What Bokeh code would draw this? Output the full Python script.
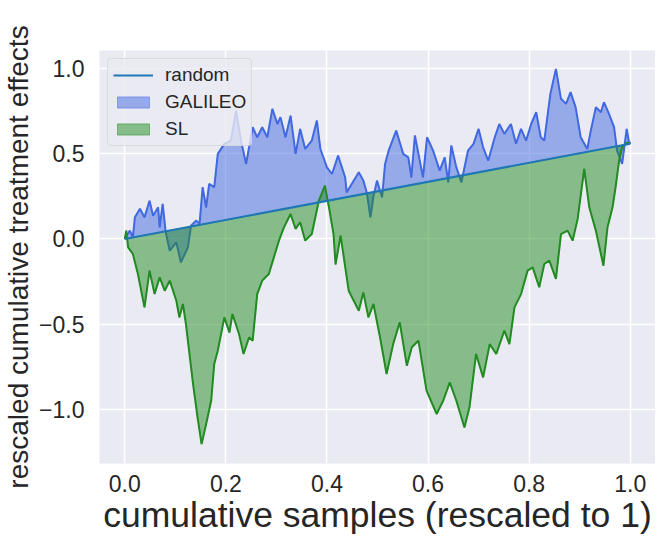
from bokeh.plotting import figure
from bokeh.models import Range1d, FixedTicker, Legend, LegendItem
from bokeh.embed import file_html
from bokeh.resources import INLINE

# ---- data ----
random_x = [0.0, 1.0]
random_y = [0.0, 0.56]

galileo_x = [0.0, 0.010, 0.016, 0.020, 0.030, 0.039, 0.049, 0.056, 0.066, 0.069,
             0.075, 0.081, 0.089, 0.102, 0.111, 0.125, 0.131, 0.141, 0.148, 0.154,
             0.161, 0.167, 0.177, 0.184, 0.197, 0.210, 0.220, 0.230, 0.240, 0.253,
             0.262, 0.272, 0.282, 0.292, 0.302, 0.308, 0.318, 0.328, 0.338, 0.347,
             0.357, 0.370, 0.380, 0.387, 0.400, 0.410, 0.422, 0.436, 0.439, 0.449,
             0.463, 0.472, 0.479, 0.486, 0.492, 0.499, 0.509, 0.515, 0.522, 0.537,
             0.551, 0.561, 0.567, 0.574, 0.590, 0.598, 0.610, 0.623, 0.633, 0.640,
             0.646, 0.656, 0.666, 0.679, 0.690, 0.700, 0.709, 0.719, 0.732, 0.741,
             0.751, 0.764, 0.774, 0.784, 0.794, 0.804, 0.814, 0.823, 0.830, 0.842,
             0.853, 0.863, 0.873, 0.882, 0.892, 0.902, 0.915, 0.922, 0.932, 0.942,
             0.948, 0.958, 0.968, 0.974, 0.984, 0.993, 0.997, 1.0]
galileo_y = [0.0, 0.049, 0.010, 0.127, 0.178, 0.127, 0.225, 0.137, 0.186, 0.068,
             0.206, 0.039, -0.069, -0.020, -0.138, -0.049, 0.078, 0.108, 0.090, 0.304,
             0.186, 0.324, 0.304, 0.500, 0.559, 0.578, 0.755, 0.578, 0.441, 0.657,
             0.598, 0.657, 0.598, 0.765, 0.676, 0.716, 0.598, 0.725, 0.500, 0.647,
             0.529, 0.578, 0.696, 0.529, 0.421, 0.382, 0.490, 0.362, 0.274, 0.323,
             0.392, 0.343, 0.270, 0.127, 0.250, 0.343, 0.245, 0.441, 0.519, 0.637,
             0.500, 0.480, 0.362, 0.608, 0.362, 0.598, 0.519, 0.402, 0.480, 0.333,
             0.549, 0.421, 0.333, 0.519, 0.559, 0.647, 0.539, 0.460, 0.598, 0.676,
             0.618, 0.676, 0.560, 0.647, 0.578, 0.676, 0.745, 0.598, 0.578, 0.853,
             1.000, 0.824, 0.794, 0.863, 0.774, 0.598, 0.529, 0.637, 0.774, 0.745,
             0.804, 0.735, 0.657, 0.519, 0.441, 0.647, 0.578, 0.56]

sl_x = [0.0, 0.003, 0.0066, 0.016, 0.026, 0.039, 0.049, 0.059, 0.069, 0.079,
        0.089, 0.102, 0.108, 0.115, 0.121, 0.135, 0.144, 0.152, 0.161, 0.171,
        0.177, 0.184, 0.197, 0.207, 0.213, 0.226, 0.235, 0.246, 0.253, 0.262,
        0.272, 0.285, 0.295, 0.305, 0.315, 0.328, 0.338, 0.347, 0.357, 0.370,
        0.384, 0.396, 0.404, 0.413, 0.417, 0.427, 0.443, 0.463, 0.472, 0.482,
        0.492, 0.505, 0.518, 0.531, 0.544, 0.558, 0.568, 0.581, 0.597, 0.617,
        0.630, 0.643, 0.656, 0.672, 0.682, 0.695, 0.709, 0.722, 0.735, 0.751,
        0.761, 0.771, 0.784, 0.797, 0.807, 0.820, 0.830, 0.840, 0.853, 0.863,
        0.876, 0.886, 0.896, 0.909, 0.919, 0.932, 0.947, 0.955, 0.965, 0.971,
        0.978, 0.984, 0.994, 1.0]
sl_y = [0.0, 0.049, -0.049, -0.088, -0.206, -0.402, -0.186, -0.324, -0.226, -0.304,
        -0.245, -0.363, -0.461, -0.382, -0.500, -0.850, -1.049, -1.206, -1.088, -0.950,
        -0.735, -0.657, -0.461, -0.550, -0.441, -0.559, -0.676, -0.578, -0.598, -0.324,
        -0.245, -0.206, -0.108, -0.010, 0.068, 0.147, 0.059, 0.098, -0.010, 0.029,
        0.225, 0.314, 0.186, 0.029, -0.150, 0.020, -0.304, -0.422, -0.314, -0.461,
        -0.382, -0.578, -0.794, -0.618, -0.490, -0.745, -0.637, -0.598, -0.892, -1.029,
        -0.951, -0.843, -0.951, -1.108, -0.990, -0.676, -0.814, -0.618, -0.676, -0.539,
        -0.618, -0.402, -0.324, -0.186, -0.167, -0.284, -0.147, -0.127, -0.235, 0.029,
        0.049, -0.010, 0.118, 0.412, 0.186, 0.049, -0.157, 0.068, 0.186, 0.304,
        0.461, 0.539, 0.568, 0.56]

x_ticks = [0.0, 0.2, 0.4, 0.6, 0.8, 1.0]
x_tick_labels = ["0.0", "0.2", "0.4", "0.6", "0.8", "1.0"]
y_ticks = [-1.0, -0.5, 0.0, 0.5, 1.0]
y_tick_labels = ["\u22121.0", "\u22120.5", "0.0", "0.5", "1.0"]

FONT = "Liberation Sans"
TXT = "#262626"

p = figure(frame_width=556, frame_height=413,
           min_border_left=96, min_border_right=0, min_border_top=50, min_border_bottom=70,
           x_range=Range1d(-0.05, 1.05), y_range=Range1d(-1.32, 1.108),
           output_backend="svg", toolbar_location=None,
           background_fill_color="#EAEAF2", border_fill_color="white")
p.outline_line_color = None

for ax in (p.xaxis[0], p.yaxis[0]):
    ax.axis_line_color = None
    ax.major_tick_line_color = None
    ax.minor_tick_line_color = None
    ax.major_label_text_font = FONT
    ax.major_label_text_font_size = "23px"
    ax.major_label_text_color = TXT
    ax.axis_label_text_font = FONT
    ax.axis_label_text_font_style = "normal"
    ax.axis_label_text_color = TXT

p.xaxis.ticker = FixedTicker(ticks=x_ticks)
p.xaxis.major_label_overrides = dict(zip(x_ticks, x_tick_labels))
p.yaxis.ticker = FixedTicker(ticks=y_ticks)
p.yaxis.major_label_overrides = dict(zip(y_ticks, y_tick_labels))
p.xaxis.axis_label = "cumulative samples (rescaled to 1)"
p.xaxis.axis_label_text_font_size = "35.5px"
p.xaxis.axis_label_standoff = 0
p.xaxis.major_label_standoff = 5
p.yaxis.axis_label = "rescaled cumulative treatment effects"
p.yaxis.axis_label_text_font_size = "28px"
p.yaxis.axis_label_standoff = 2
p.yaxis.major_label_standoff = 9

p.grid.grid_line_color = "white"
p.grid.grid_line_width = 1.5
p.xgrid.ticker = FixedTicker(ticks=x_ticks)
p.ygrid.ticker = FixedTicker(ticks=y_ticks)

BLUE = "#4169E1"
GREEN = "#228B22"

rx_back = random_x[::-1]
ry_back = random_y[::-1]

g_patch = p.patch(galileo_x + rx_back, galileo_y + ry_back, fill_color=BLUE, fill_alpha=0.5,
                  line_color=BLUE, line_alpha=0.5, line_width=1)
p.line(galileo_x, galileo_y, line_color=BLUE, line_width=2)
s_patch = p.patch(sl_x + rx_back, sl_y + ry_back, fill_color=GREEN, fill_alpha=0.5,
                  line_color=GREEN, line_alpha=0.5, line_width=1)
p.line(sl_x, sl_y, line_color=GREEN, line_width=2)
r_line = p.line(random_x, random_y, line_color="#1f77b4", line_width=2)

legend = Legend(items=[LegendItem(label="random", renderers=[r_line]),
                       LegendItem(label="GALILEO", renderers=[g_patch]),
                       LegendItem(label="SL", renderers=[s_patch])],
                location="top_left")
legend.margin = 8
legend.padding = 5
legend.spacing = 5
legend.glyph_width = 40
legend.glyph_height = 14
legend.label_height = 21
legend.label_standoff = 12
legend.label_text_font = FONT
legend.label_text_font_size = "19px"
legend.label_text_color = TXT
legend.background_fill_color = "#EAEAF2"
legend.background_fill_alpha = 0.8
legend.border_line_color = "#cccccc"
legend.border_line_width = 1
legend.border_radius = 4
p.add_layout(legend, "center")

open("out.html", "w").write(file_html(p, INLINE))
